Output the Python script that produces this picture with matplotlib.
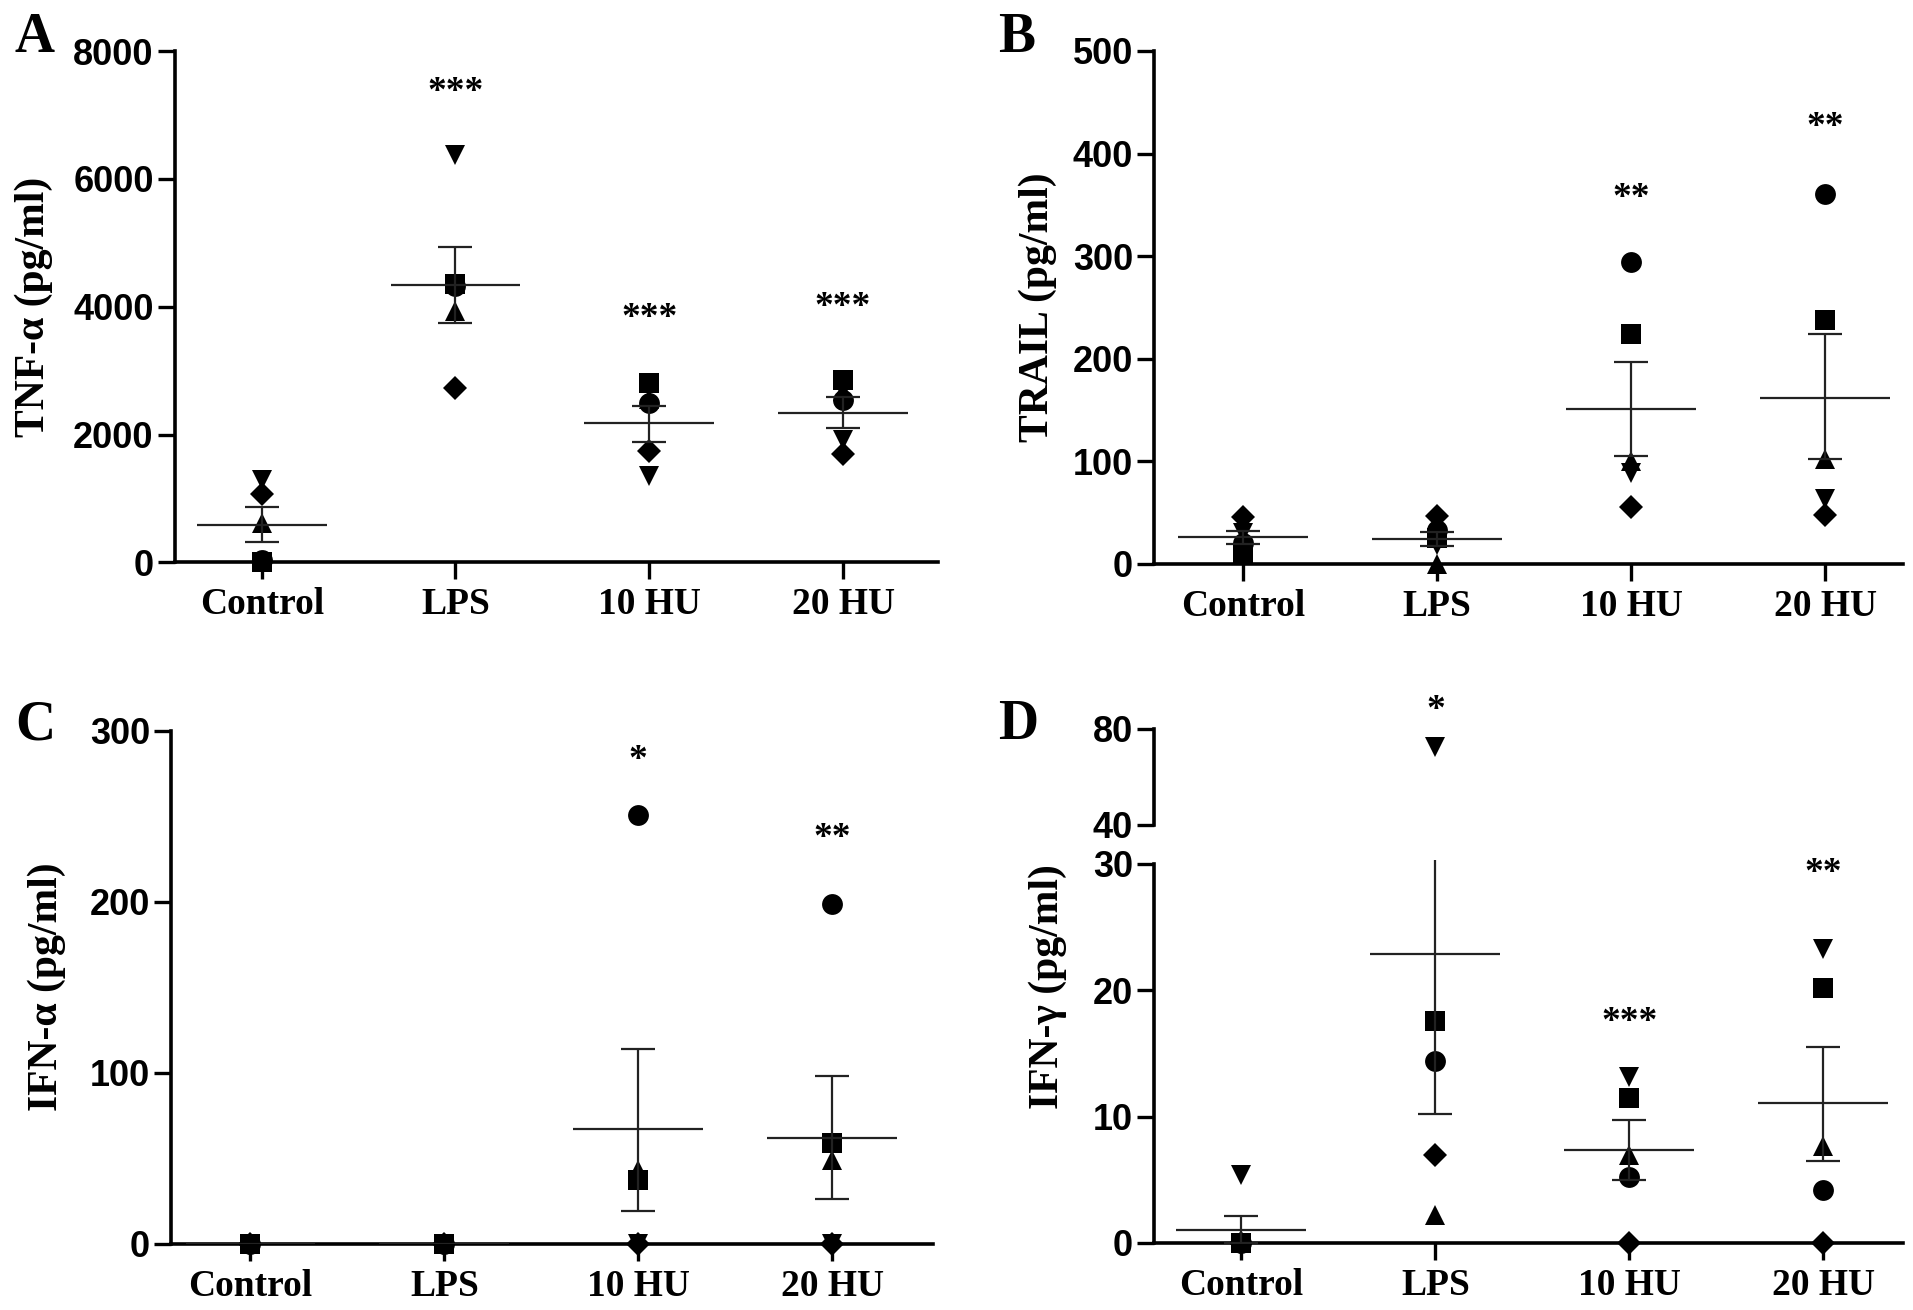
import matplotlib
matplotlib.use("Agg")
import matplotlib.pyplot as plt

W, H = 1913, 1310

groups = ["Control", "LPS", "10 HU", "20 HU"]
symbols = ["o", "s", "^", "v", "D"]
sizes = [15, 14, 15, 14, 12.5]

# A: TNF-alpha (pg/ml), one list per sample symbol
tnf_o = [30, 4330, 2500, 2540]
tnf_s = [0, 4360, 2800, 2855]
tnf_up = [620, 3930, 2560, 2675]
tnf_dn = [1284, 6370, 1355, 1915]
tnf_di = [1076, 2730, 1743, 1700]
tnf_mean = [590, 4345, 2181, 2337]
tnf_lo = [326, 3748, 1885, 2100]
tnf_hi = [860, 4930, 2447, 2590]
tnf_stars = ["", "***", "***", "***"]
tnf_star_y = [0, 7470, 3930, 4090]

# B: TRAIL (pg/ml)
trail_o = [20, 33, 294, 361]
trail_s = [10, 25, 224, 238]
trail_up = [24, 0, 100, 102]
trail_dn = [30, 18, 88, 63]
trail_di = [45, 46, 55, 47]
trail_mean = [25.8, 24.4, 150.5, 162]
trail_lo = [19.5, 17.5, 104.5, 102.4]
trail_hi = [31.8, 31, 196.7, 223.6]
trail_stars = ["", "", "**", "**"]
trail_star_y = [0, 0, 363, 432]

# C: IFN-alpha (pg/ml)
ifna_o = [0, 0, 251, 199]
ifna_s = [0, 0, 37, 59]
ifna_up = [0, 0, 43, 49]
ifna_dn = [0, 0, 0, 0]
ifna_di = [0, 0, 0, 0]
ifna_mean = [0, 0, 67, 61.6]
ifna_lo = [0, 0, 19, 26.3]
ifna_hi = [0, 0, 114, 98]
ifna_stars = ["", "", "*", "**"]
ifna_star_y = [0, 0, 287, 241]

# D: IFN-gamma (pg/ml), broken axis 0-30 / 40-80
ifng_o = [0, 14.4, 5.2, 4.2]
ifng_s = [0, 17.6, 11.5, 20.2]
ifng_up = [0, 2.2, 7.0, 7.7]
ifng_dn = [5.4, 72.3, 13.1, 23.3]
ifng_di = [0, 7.0, 0, 0]
ifng_mean = [1.06, 22.9, 7.4, 11.1]
ifng_lo = [0, 10.2, 5.0, 6.5]
ifng_hi = [2.1, 35.6, 9.7, 15.5]
ifng_stars = ["", "*", "***", "**"]
ifng_star_y = [0, 90.4, 18.0, 29.8]

SERIF = "Liberation Serif"
SANS = "Liberation Sans"

fig = plt.figure(figsize=(W / 100, H / 100), dpi=100)


def px_axes(left, top, right, bottom):
    return fig.add_axes([left / W, 1 - bottom / H, (right - left) / W, (bottom - top) / H])


def style(ax, yticks, xlim, ylim, xaxis=True):
    ax.set_xlim(*xlim)
    ax.set_ylim(*ylim)
    for s in ["top", "right"]:
        ax.spines[s].set_visible(False)
    for s in ["left", "bottom"]:
        ax.spines[s].set_linewidth(2.6)
    ax.set_yticks(yticks, [str(t) for t in yticks], fontfamily=SANS,
                  fontweight="bold", fontsize=26)
    ax.tick_params(axis="y", direction="out", length=12, width=2.4, pad=3)
    if xaxis:
        ax.set_xticks(range(len(groups)), groups, fontfamily=SERIF,
                      fontweight="bold", fontsize=27)
        ax.tick_params(axis="x", direction="out", length=12, width=2.4, pad=6)
    else:
        ax.spines["bottom"].set_visible(False)
        ax.set_xticks([])


def draw_points(ax, series, keep=lambda v: True):
    for vals, m, ms in zip(series, symbols, sizes):
        for i, v in enumerate(vals):
            if keep(v):
                ax.plot(i, v, marker=m, ms=ms, color="black", mew=0,
                        linestyle="none", clip_on=False, zorder=3)


def draw_stats(ax, mean, lo, hi, clip=False):
    for i in range(len(groups)):
        ax.hlines(mean[i], i - 0.335, i + 0.335, color="#222222", lw=1.6, zorder=4)
        if hi[i] > lo[i]:
            eb = ax.errorbar(i, mean[i], yerr=[[mean[i] - lo[i]], [hi[i] - mean[i]]],
                             fmt="none", ecolor="#222222", elinewidth=1.6,
                             capsize=12, capthick=1.6, zorder=4)
            for art in eb.lines[1] + eb.lines[2]:
                art.set_clip_on(clip)


def draw_stars(ax, stars, ys):
    for i, (s, y) in enumerate(zip(stars, ys)):
        if s:
            ax.annotate(s, (i, y), xytext=(0, -5), textcoords="offset points",
                        ha="center", va="center", fontsize=27,
                        fontfamily=SERIF, fontweight="bold", annotation_clip=False)


panels = [
    ("A", px_axes(174.5, 51.2, 938, 562.4), (-0.45, 3.49), (0, 8000), [0, 2000, 4000, 6000, 8000],
     [tnf_o, tnf_s, tnf_up, tnf_dn, tnf_di], tnf_mean, tnf_lo, tnf_hi, tnf_stars, tnf_star_y),
    ("B", px_axes(1154, 51, 1903, 563.6), (-0.46, 3.40), (0, 500), [0, 100, 200, 300, 400, 500],
     [trail_o, trail_s, trail_up, trail_dn, trail_di], trail_mean, trail_lo, trail_hi,
     trail_stars, trail_star_y),
    ("C", px_axes(171, 731, 933, 1243.5), (-0.41, 3.52), (0, 300), [0, 100, 200, 300],
     [ifna_o, ifna_s, ifna_up, ifna_dn, ifna_di], ifna_mean, ifna_lo, ifna_hi,
     ifna_stars, ifna_star_y),
]

for letter, ax, xlim, ylim, yticks, series, mean, lo, hi, stars, sy in panels:
    style(ax, yticks, xlim, ylim)
    draw_points(ax, series)
    draw_stats(ax, mean, lo, hi)
    draw_stars(ax, stars, sy)

# D: broken y axis
ax_lo = px_axes(1154, 860.2, 1903, 1243)
ax_hi = px_axes(1154, 729, 1903, 825)
style(ax_lo, [0, 10, 20, 30], (-0.45, 3.41), (0, 30.3))
ax_lo.spines["left"].set_bounds(0, 30)
style(ax_hi, [40, 80], (-0.45, 3.41), (40, 80), xaxis=False)
ifng_series = [ifng_o, ifng_s, ifng_up, ifng_dn, ifng_di]
draw_points(ax_lo, ifng_series, keep=lambda v: v <= 30)
draw_points(ax_hi, ifng_series, keep=lambda v: v >= 40)
draw_stats(ax_lo, ifng_mean, ifng_lo, ifng_hi, clip=True)
draw_stars(ax_hi, ["", ifng_stars[1], "", ""], [0, ifng_star_y[1], 0, 0])
draw_stars(ax_lo, ["", "", ifng_stars[2], ifng_stars[3]], [0, 0, ifng_star_y[2], ifng_star_y[3]])

# panel letters and y labels
for letter, x, y in [("A", 15, 12), ("B", 998, 12), ("C", 15, 699), ("D", 998, 699)]:
    fig.text(x / W, 1 - y / H, letter, ha="left", va="top", fontsize=40,
             fontfamily=SERIF, fontweight="bold")

for text, x, y in [("TNF-\u03b1 (pg/ml)", 34, 307), ("TRAIL (pg/ml)", 1038, 307),
                   ("IFN-\u03b1 (pg/ml)", 47, 987), ("IFN-\u03b3 (pg/ml)", 1048, 987)]:
    fig.text(x / W, 1 - y / H, text, rotation=90, ha="center", va="center",
             fontsize=30, fontfamily=SERIF, fontweight="bold")

fig.savefig("out.png", dpi=100, facecolor="white")
